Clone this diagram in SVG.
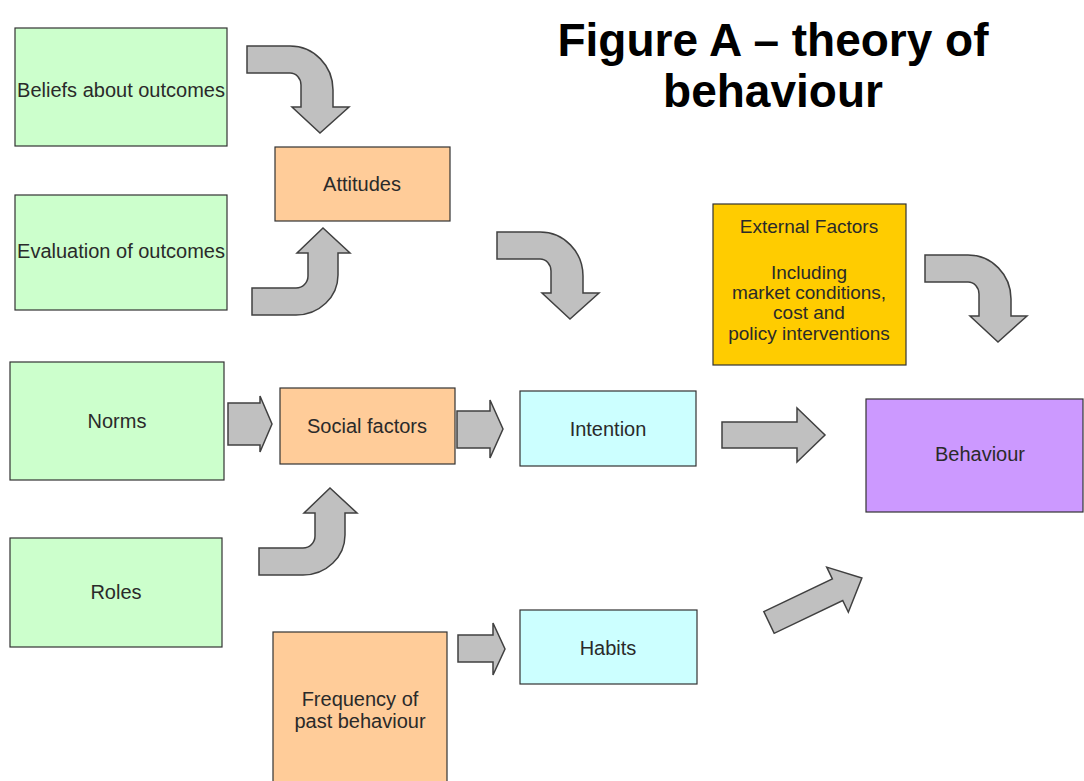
<svg xmlns="http://www.w3.org/2000/svg" xmlns:xlink="http://www.w3.org/1999/xlink" width="1084" height="781" viewBox="0 0 1084 781">
  <style>
    .box { stroke: #333333; stroke-width: 1.2; }
    .green { fill: #ccffcc; }
    .orange { fill: #ffcc99; }
    .cyan { fill: #ccffff; }
    .gold { fill: #ffcc00; }
    .purple { fill: #cc99ff; }
    .lbl { font-family: "Liberation Sans", Arial, sans-serif; font-size: 20px; fill: #2a2a2a; text-anchor: middle; }
    .ext { font-size: 19px; }
    .title { font-family: "Liberation Sans", Arial, sans-serif; font-size: 46px; font-weight: bold; fill: #000000; text-anchor: middle; }
    .arrow { fill: #c0c0c0; stroke: #404040; stroke-width: 1.5; stroke-linejoin: miter; }
  </style>
  <defs>
    <!-- bent arrow: horizontal tail, turning down -->
    <path id="bendDown" d="M247,46 H290 A43 44 0 0 1 333,90 V107 H349 L320,133 L292,107 H301 V85 A11 12 0 0 0 290,73 H247 Z"/>
    <!-- bent arrow: horizontal tail, turning up -->
    <path id="bendUp" d="M252,288 H296 A12 12 0 0 0 308,276 V253 H297 L323,228 L350,253 H338 V275 A42 40 0 0 1 296,315 H252 Z"/>
  </defs>

  <rect width="1084" height="781" fill="#ffffff"/>

  <text class="title" x="773" y="56">Figure A – theory of</text>
  <text class="title" x="773" y="107">behaviour</text>

  <g id="beliefs">
    <rect class="box green" x="15" y="28" width="212" height="118"/>
    <text class="lbl" x="121" y="97">Beliefs about outcomes</text>
  </g>
  <g id="evaluation">
    <rect class="box green" x="15" y="195" width="212" height="115"/>
    <text class="lbl" x="121" y="258">Evaluation of outcomes</text>
  </g>
  <g id="norms">
    <rect class="box green" x="10" y="362" width="214" height="118"/>
    <text class="lbl" x="117" y="428">Norms</text>
  </g>
  <g id="roles">
    <rect class="box green" x="10" y="538" width="212" height="109"/>
    <text class="lbl" x="116" y="599">Roles</text>
  </g>
  <g id="attitudes">
    <rect class="box orange" x="275" y="147" width="175" height="74"/>
    <text class="lbl" x="362" y="191">Attitudes</text>
  </g>
  <g id="social">
    <rect class="box orange" x="280" y="388" width="175" height="76"/>
    <text class="lbl" x="367" y="433">Social factors</text>
  </g>
  <g id="frequency">
    <rect class="box orange" x="273" y="632" width="174" height="152"/>
    <text class="lbl" x="360" y="706">Frequency of</text>
    <text class="lbl" x="360" y="728">past behaviour</text>
  </g>
  <g id="intention">
    <rect class="box cyan" x="520" y="391" width="176" height="75"/>
    <text class="lbl" x="608" y="436">Intention</text>
  </g>
  <g id="habits">
    <rect class="box cyan" x="520" y="610" width="177" height="74"/>
    <text class="lbl" x="608" y="655">Habits</text>
  </g>
  <g id="external">
    <rect class="box gold" x="713" y="204" width="193" height="161"/>
    <text class="lbl ext" x="809" y="233">External Factors</text>
    <text class="lbl ext" x="809" y="279">Including</text>
    <text class="lbl ext" x="809" y="299">market conditions,</text>
    <text class="lbl ext" x="809" y="319">cost and</text>
    <text class="lbl ext" x="809" y="340">policy interventions</text>
  </g>
  <g id="behaviour">
    <rect class="box purple" x="866" y="399" width="217" height="113"/>
    <text class="lbl" x="980" y="461">Behaviour</text>
  </g>

  <g id="connectors">
    <use class="arrow" xlink:href="#bendDown" href="#bendDown"/>
    <use class="arrow" xlink:href="#bendUp" href="#bendUp"/>
    <use class="arrow" xlink:href="#bendUp" href="#bendUp" transform="translate(7,260)"/>
    <use class="arrow" xlink:href="#bendDown" href="#bendDown" transform="translate(250,186)"/>
    <use class="arrow" xlink:href="#bendDown" href="#bendDown" transform="translate(678,209)"/>
    <path class="arrow" d="M228,403 H260 V396 L272,424 L260,452 V445 H228 Z"/>
    <path class="arrow" d="M457,411 H490 V400 L503,429 L490,458 V448 H457 Z"/>
    <path class="arrow" d="M722,422 H797 V408 L825,435 L797,462 V448 H722 Z"/>
    <path class="arrow" d="M458,635 H493 V623 L505,649 L493,675 V662 H458 Z"/>
    <path class="arrow" d="M0,-12 H76 V-25 L103,0 L76,25 V12 H0 Z" transform="translate(769,622.5) rotate(-25.6)"/>
  </g>
</svg>
